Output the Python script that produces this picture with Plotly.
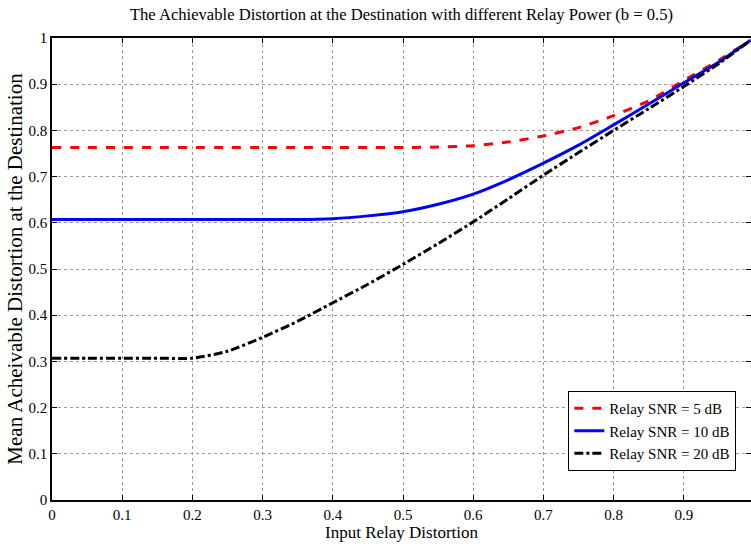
import plotly.graph_objects as go

x_vals = [0.0, 0.05, 0.1, 0.15, 0.2, 0.25, 0.3, 0.35, 0.4, 0.45, 0.5, 0.55, 0.6,
          0.65, 0.7, 0.75, 0.8, 0.85, 0.9, 0.95, 0.995]
snr5 = [0.763, 0.763, 0.763, 0.763, 0.763, 0.763, 0.763, 0.763, 0.763, 0.763, 0.763,
        0.764, 0.767, 0.775, 0.788, 0.806, 0.832, 0.864, 0.908, 0.952, 0.995]
snr10 = [0.607, 0.607, 0.607, 0.607, 0.607, 0.607, 0.607, 0.607, 0.609, 0.615, 0.624,
         0.640, 0.662, 0.693, 0.729, 0.768, 0.812, 0.857, 0.903, 0.948, 0.995]
snr20 = [0.307, 0.307, 0.307, 0.307, 0.307, 0.322, 0.352, 0.387, 0.427, 0.467, 0.510,
         0.555, 0.602, 0.652, 0.703, 0.752, 0.800, 0.847, 0.895, 0.945, 0.995]
names = ["Relay SNR = 5 dB", "Relay SNR = 10 dB", "Relay SNR = 20 dB"]
tick_vals = [0, 0.1, 0.2, 0.3, 0.4, 0.5, 0.6, 0.7, 0.8, 0.9, 1]
tick_text = ["0", "0.1", "0.2", "0.3", "0.4", "0.5", "0.6", "0.7", "0.8", "0.9", "1"]

FONT = "Liberation Serif"
fig = go.Figure()
fig.add_trace(go.Scatter(x=x_vals, y=snr5, mode="lines", name=names[0],
                         line=dict(color="#ff0000", width=3, dash="dash", shape="spline", smoothing=0.6)))
fig.add_trace(go.Scatter(x=x_vals, y=snr10, mode="lines", name=names[1],
                         line=dict(color="#0000ff", width=3, shape="spline", smoothing=0.6)))
fig.add_trace(go.Scatter(x=x_vals, y=snr20, mode="lines", name=names[2],
                         line=dict(color="#000000", width=3, dash="dashdot", shape="spline", smoothing=0.6)))

axis_common = dict(showline=True, linecolor="black", linewidth=1.5, mirror="ticks",
                   ticks="inside", ticklen=5, tickcolor="black", tickwidth=1,
                   showgrid=True, gridcolor="#9a9a9a", griddash="dot", gridwidth=1,
                   zeroline=False, automargin=False,
                   tickfont=dict(family=FONT, size=15, color="black"))

fig.update_layout(
    width=751, height=548,
    margin=dict(l=52, r=0, t=38, b=48),
    paper_bgcolor="white", plot_bgcolor="white",
    font=dict(family=FONT, color="black"),
    title=dict(text="The Achievable Distortion at the Destination with different Relay Power (b = 0.5)",
               x=0.5, xref="paper", y=0.974, yref="container", yanchor="middle",
               font=dict(family=FONT, size=16.6, color="black"), automargin=False),
    xaxis=dict(range=[0, 0.9957], tickvals=tick_vals[:-1], ticktext=tick_text[:-1],
               title=dict(text="Input Relay Distortion", font=dict(family=FONT, size=17), standoff=0),
               **axis_common),
    yaxis=dict(range=[0, 1], tickvals=tick_vals, ticktext=tick_text,
               title=dict(text="Mean Acheivable Distortion at the Destination", font=dict(family=FONT, size=21), standoff=0),
               **axis_common),
    legend=dict(x=0.979, y=0.063, xanchor="right", yanchor="bottom",
                bordercolor="black", borderwidth=1, bgcolor="white",
                font=dict(family=FONT, size=15, color="black"),
                tracegroupgap=0, itemwidth=30),
    showlegend=True,
)

fig.write_html("out.html", config={"displayModeBar": False},
               post_script="document.body.style.margin='0';document.body.style.overflow='hidden';")
